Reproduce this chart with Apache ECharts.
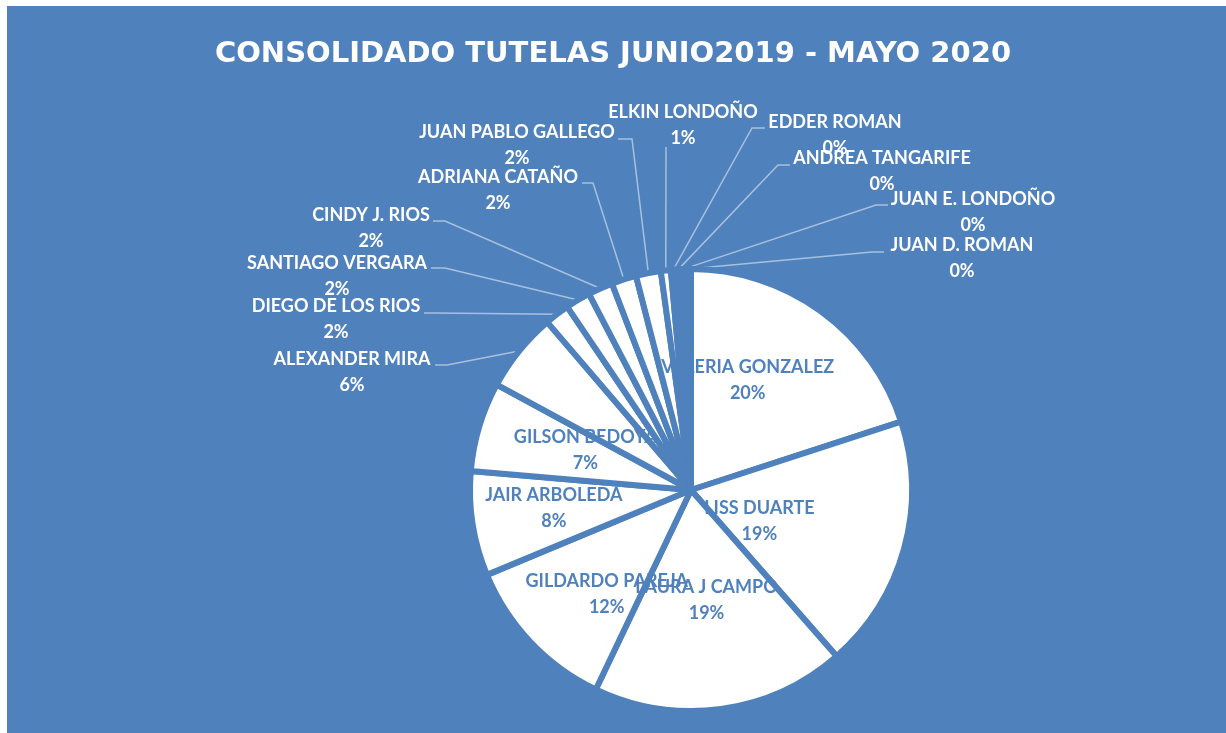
<!DOCTYPE html>
<html>
<head>
<meta charset="utf-8">
<title>Consolidado tutelas</title>
<script src="https://cdn.jsdelivr.net/npm/echarts@6/dist/echarts.min.js"></script>
<style>
  html, body { margin: 0; padding: 0; background: #ffffff; }
  #chart { width: 1226px; height: 733px; }
</style>
</head>
<body>
<div id="chart"></div>
<script>
// Tutelas per person, clockwise from 12 o'clock
const names = [
  'VALERIA GONZALEZ', 'LISS DUARTE', 'LAURA J CAMPO', 'GILDARDO PAREJA',
  'JAIR ARBOLEDA', 'GILSON BEDOYA', 'ALEXANDER MIRA', 'DIEGO DE LOS RIOS',
  'SANTIAGO VERGARA', 'CINDY J. RIOS', 'ADRIANA CATAÑO', 'JUAN PABLO GALLEGO',
  'ELKIN LONDOÑO', 'EDDER ROMAN', 'ANDREA TANGARIFE', 'JUAN E. LONDOÑO',
  'JUAN D. ROMAN'
];
const counts = [55, 51, 51, 32, 21, 18, 16, 5, 5, 5, 5, 5, 2, 1, 1, 1, 1];
const titleText = 'CONSOLIDADO TUTELAS JUNIO2019 - MAYO 2020';

const BLUE = '#4F81BD';
const total = counts.reduce((a, b) => a + b, 0);
const pct = v => Math.round(v / total * 100) + '%';

// Names whose label sits inside the slice
const insideNames = new Set(names.slice(0, 6));

// Nudges for the inside labels
const insideNudge = {
  'VALERIA GONZALEZ': [-10, -18],
  'LISS DUARTE': [-41, 1],
  'LAURA J CAMPO': [0, -2],
  'GILDARDO PAREJA': [-2, 26],
  'JAIR ARBOLEDA': [-25, 1],
  'GILSON BEDOYA': [3, -7]
};

// Outside label boxes: centre x/y, leader height, elbow x, end x
const outsideSpot = {
  'ALEXANDER MIRA':     { x: 352, y: 372, ly: 365, ex: 447, ax: 435 },
  'DIEGO DE LOS RIOS':  { x: 336, y: 319, ly: 313, ex: 435, ax: 424 },
  'SANTIAGO VERGARA':   { x: 337, y: 276, ly: 268, ex: 445, ax: 431 },
  'CINDY J. RIOS':      { x: 371, y: 228, ly: 221, ex: 445, ax: 433 },
  'ADRIANA CATAÑO':     { x: 498, y: 190, ly: 183, ex: 593, ax: 582 },
  'JUAN PABLO GALLEGO': { x: 517, y: 145, ly: 139, ex: 632, ax: 618 },
  'ELKIN LONDOÑO':      { x: 683, y: 125, ly: 147, ex: 666, ax: 666 },
  'EDDER ROMAN':        { x: 835, y: 135, ly: 128, ex: 752, ax: 765 },
  'ANDREA TANGARIFE':   { x: 882, y: 171, ly: 165, ex: 778, ax: 790 },
  'JUAN E. LONDOÑO':    { x: 973, y: 212, ly: 205, ex: 876, ax: 888 },
  'JUAN D. ROMAN':      { x: 962, y: 258, ly: 252, ex: 872, ax: 884 }
};

const seriesData = names.map((n, i) => ({
  name: n,
  value: counts[i],
  label: insideNames.has(n)
    ? { position: 'inside', color: BLUE }
    : { position: 'outside', color: '#ffffff' },
  labelLine: { show: !insideNames.has(n) }
}));

const chart = echarts.init(document.getElementById('chart'), null, { renderer: 'canvas' });

chart.setOption({
  backgroundColor: '#ffffff',
  animation: false,
  graphic: [{
    type: 'rect',
    z: -10,
    silent: true,
    shape: { x: 7, y: 6, width: 1219, height: 727 },
    style: { fill: BLUE }
  }],
  title: {
    text: titleText,
    left: 'center',
    top: 40,
    padding: 0,
    textStyle: {
      color: '#ffffff',
      fontFamily: 'DejaVu Sans',
      fontWeight: 'bold',
      fontSize: 29
    }
  },
  series: [{
    type: 'pie',
    center: [691, 490],
    radius: 221,
    startAngle: 90,
    clockwise: true,
    avoidLabelOverlap: false,
    data: seriesData,
    itemStyle: {
      color: '#ffffff',
      borderColor: BLUE,
      borderWidth: 6
    },
    label: {
      show: true,
      fontFamily: 'Lato',
      fontWeight: 'bold',
      fontSize: 18,
      lineHeight: 26,
      align: 'center',
      formatter: p => p.name + '\n' + pct(p.value)
    },
    labelLine: {
      show: true,
      length: 20,
      length2: 10,
      lineStyle: { color: 'rgba(255,255,255,0.5)', width: 1.5 }
    },
    emphasis: { disabled: true },
    labelLayout: function (p) {
      const n = names[p.dataIndex];
      const s = outsideSpot[n];
      if (s) {
        const start = p.labelLinePoints && p.labelLinePoints[0];
        return {
          x: s.x,
          y: s.y,
          align: 'center',
          verticalAlign: 'middle',
          labelLinePoints: [start, [s.ex, s.ly], [s.ax, s.ly]]
        };
      }
      const d = insideNudge[n];
      return d ? { dx: d[0], dy: d[1] } : {};
    }
  }]
});
</script>
</body>
</html>
